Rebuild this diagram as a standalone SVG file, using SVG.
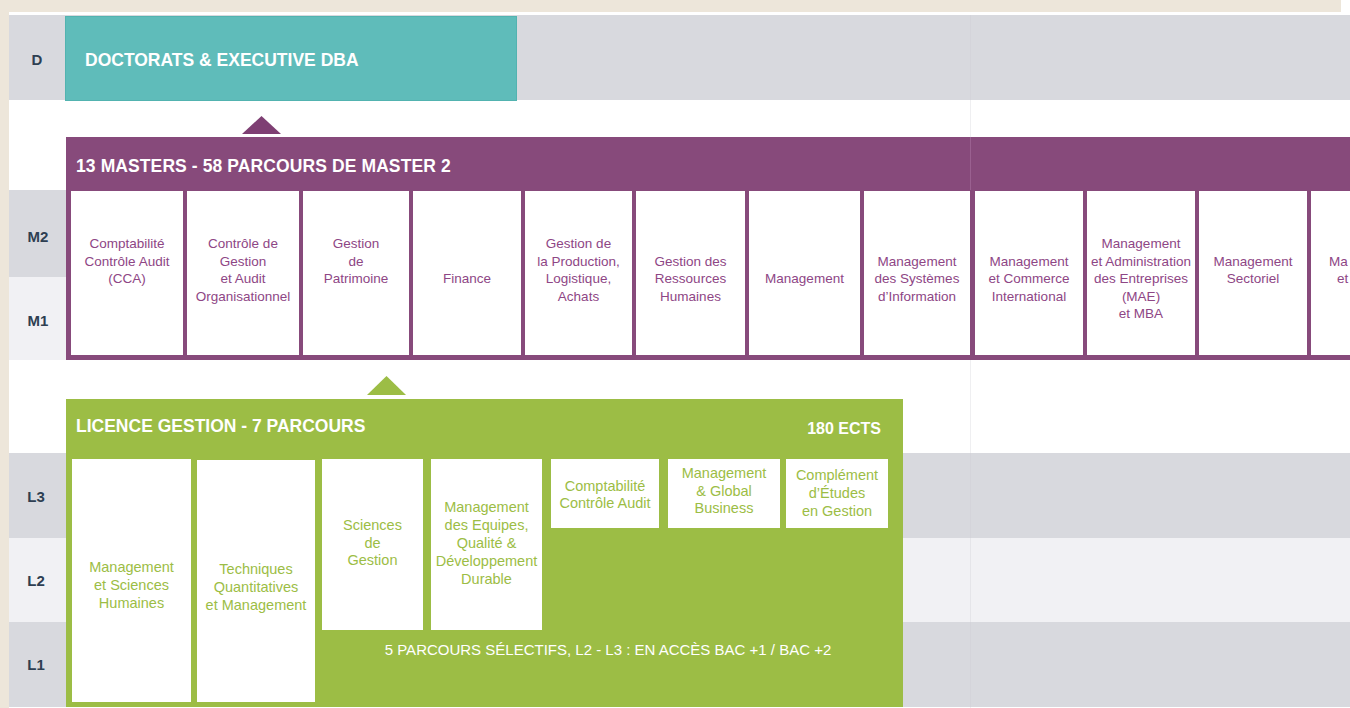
<svg xmlns="http://www.w3.org/2000/svg" width="1350" height="708" viewBox="0 0 1350 708">
<style>
  .row{font-family:"Liberation Sans",Arial,sans-serif;font-weight:bold;font-size:15px;fill:#2e3f52;text-anchor:middle}
  .hdr{font-family:"Liberation Sans",Arial,sans-serif;font-weight:bold;font-size:17.5px;fill:#ffffff}
  .mt{font-family:"Liberation Sans",Arial,sans-serif;font-size:13.5px;fill:#8e4685;text-anchor:middle}
  .lt{font-family:"Liberation Sans",Arial,sans-serif;font-size:14.5px;fill:#9cbd45;text-anchor:middle}
  .mbox{fill:#ffffff}
  .lbox{fill:#ffffff}
  .dark{fill:#d8d9de}
  .light{fill:#f1f1f4}
</style>
<rect x="0" y="0" width="1350" height="708" fill="#ffffff"/>
<rect x="0" y="0" width="1341" height="12" fill="#ede6da"/>
<rect x="0" y="0" width="9" height="708" fill="#ede6da"/>

<g id="bands">
  <rect class="dark" x="9" y="15" width="1341" height="85"/>
  <rect class="dark" x="9" y="190" width="57" height="87"/>
  <rect class="light" x="9" y="277" width="57" height="83"/>
  <rect class="dark" x="9" y="453" width="1341" height="85"/>
  <rect class="light" x="9" y="538" width="1341" height="84"/>
  <rect class="dark" x="9" y="622" width="1341" height="85"/>
  <line x1="970.5" y1="15" x2="970.5" y2="708" stroke="#c9c9cf" stroke-opacity="0.3" stroke-width="1"/>
</g>

<g id="row-labels">
  <text class="row" x="37" y="65">D</text>
  <text class="row" x="38" y="242">M2</text>
  <text class="row" x="38" y="326">M1</text>
  <text class="row" x="36" y="502">L3</text>
  <text class="row" x="36" y="586">L2</text>
  <text class="row" x="36" y="670">L1</text>
</g>

<g id="doctorat">
  <rect x="65.5" y="16.5" width="451" height="84" fill="#5fbcba" stroke="#52b3b0" stroke-width="1"/>
  <text class="hdr" x="85" y="66">DOCTORATS &amp; EXECUTIVE DBA</text>
</g>

<g id="connectors">
  <polygon points="242,134 281,134 261.5,116" fill="#7e3f73"/>
  <polygon points="367,395 406,395 386.5,376" fill="#9cbd45"/>
</g>

<g id="masters">
  <rect x="66" y="137" width="1284" height="223" fill="#874a7b"/>
  <line x1="970.5" y1="137" x2="970.5" y2="190" stroke="#9a6090" stroke-width="1"/>
  <text class="hdr" x="76" y="172" style="letter-spacing:0.1px">13 MASTERS - 58 PARCOURS DE MASTER 2</text>

  <g id="m-cca">
    <rect class="mbox" x="71" y="191" width="112" height="164"/>
    <text class="mt" x="127" y="248">Comptabilité</text>
    <text class="mt" x="127" y="265.5">Contrôle Audit</text>
    <text class="mt" x="127" y="283">(CCA)</text>
  </g>
  <g id="m-cgao">
    <rect class="mbox" x="187" y="191" width="112" height="164"/>
    <text class="mt" x="243" y="248">Contrôle de</text>
    <text class="mt" x="243" y="265.5">Gestion</text>
    <text class="mt" x="243" y="283">et Audit</text>
    <text class="mt" x="243" y="300.5">Organisationnel</text>
  </g>
  <g id="m-patrimoine">
    <rect class="mbox" x="303" y="191" width="106" height="164"/>
    <text class="mt" x="356" y="248">Gestion</text>
    <text class="mt" x="356" y="265.5">de</text>
    <text class="mt" x="356" y="283">Patrimoine</text>
  </g>
  <g id="m-finance">
    <rect class="mbox" x="413" y="191" width="108" height="164"/>
    <text class="mt" x="467" y="283">Finance</text>
  </g>
  <g id="m-production">
    <rect class="mbox" x="525" y="191" width="107" height="164"/>
    <text class="mt" x="578.5" y="248">Gestion de</text>
    <text class="mt" x="578.5" y="265.5">la Production,</text>
    <text class="mt" x="578.5" y="283">Logistique,</text>
    <text class="mt" x="578.5" y="300.5">Achats</text>
  </g>
  <g id="m-grh">
    <rect class="mbox" x="636" y="191" width="109" height="164"/>
    <text class="mt" x="690.5" y="265.5">Gestion des</text>
    <text class="mt" x="690.5" y="283">Ressources</text>
    <text class="mt" x="690.5" y="300.5">Humaines</text>
  </g>
  <g id="m-management">
    <rect class="mbox" x="749" y="191" width="111" height="164"/>
    <text class="mt" x="804.5" y="283">Management</text>
  </g>
  <g id="m-msi">
    <rect class="mbox" x="864" y="191" width="106" height="164"/>
    <text class="mt" x="917" y="265.5">Management</text>
    <text class="mt" x="917" y="283">des Systèmes</text>
    <text class="mt" x="917" y="300.5">d’Information</text>
  </g>
  <g id="m-mci">
    <rect class="mbox" x="975" y="191" width="108" height="164"/>
    <text class="mt" x="1029" y="265.5">Management</text>
    <text class="mt" x="1029" y="283">et Commerce</text>
    <text class="mt" x="1029" y="300.5">International</text>
  </g>
  <g id="m-mae">
    <rect class="mbox" x="1087" y="191" width="108" height="164"/>
    <text class="mt" x="1141" y="248">Management</text>
    <text class="mt" x="1141" y="265.5">et Administration</text>
    <text class="mt" x="1141" y="283">des Entreprises</text>
    <text class="mt" x="1141" y="300.5">(MAE)</text>
    <text class="mt" x="1141" y="318">et MBA</text>
  </g>
  <g id="m-sectoriel">
    <rect class="mbox" x="1199" y="191" width="108" height="164"/>
    <text class="mt" x="1253" y="265.5">Management</text>
    <text class="mt" x="1253" y="283">Sectoriel</text>
  </g>
  <g id="m-cut">
    <rect class="mbox" x="1311" y="191" width="39" height="164"/>
    <text class="mt" x="1329" y="265.5" style="text-anchor:start">Ma</text>
    <text class="mt" x="1337" y="283" style="text-anchor:start">et</text>
  </g>
</g>

<g id="licence">
  <rect x="66" y="399" width="837" height="308" fill="#9cbd45"/>
  <text class="hdr" x="76" y="432">LICENCE GESTION - 7 PARCOURS</text>
  <text class="hdr" x="881" y="434" style="font-size:16px;text-anchor:end">180 ECTS</text>
  <text x="608" y="655" style="font-family:'Liberation Sans',Arial,sans-serif;font-size:15px;fill:#ffffff;text-anchor:middle">5 PARCOURS SÉLECTIFS, L2 - L3 : EN ACCÈS BAC +1 / BAC +2</text>

  <g id="l-msh">
    <rect class="lbox" x="72" y="459" width="119" height="243"/>
    <text class="lt" x="131.5" y="572">Management</text>
    <text class="lt" x="131.5" y="590">et Sciences</text>
    <text class="lt" x="131.5" y="608">Humaines</text>
  </g>
  <g id="l-tqm">
    <rect class="lbox" x="197" y="460" width="118" height="242"/>
    <text class="lt" x="256" y="574">Techniques</text>
    <text class="lt" x="256" y="592">Quantitatives</text>
    <text class="lt" x="256" y="610">et Management</text>
  </g>
  <g id="l-sg">
    <rect class="lbox" x="322" y="459" width="101" height="171"/>
    <text class="lt" x="372.5" y="530">Sciences</text>
    <text class="lt" x="372.5" y="548">de</text>
    <text class="lt" x="372.5" y="565">Gestion</text>
  </g>
  <g id="l-meq">
    <rect class="lbox" x="431" y="459" width="111" height="171"/>
    <text class="lt" x="486.5" y="512">Management</text>
    <text class="lt" x="486.5" y="530">des Equipes,</text>
    <text class="lt" x="486.5" y="548">Qualité &amp;</text>
    <text class="lt" x="486.5" y="566">Développement</text>
    <text class="lt" x="486.5" y="584">Durable</text>
  </g>
  <g id="l-cca">
    <rect class="lbox" x="551" y="459" width="108" height="69"/>
    <text class="lt" x="605" y="491">Comptabilité</text>
    <text class="lt" x="605" y="508">Contrôle Audit</text>
  </g>
  <g id="l-mgb">
    <rect class="lbox" x="668" y="459" width="112" height="69"/>
    <text class="lt" x="724" y="478">Management</text>
    <text class="lt" x="724" y="496">&amp; Global</text>
    <text class="lt" x="724" y="513">Business</text>
  </g>
  <g id="l-ceg">
    <rect class="lbox" x="786" y="459" width="102" height="69"/>
    <text class="lt" x="837" y="480">Complément</text>
    <text class="lt" x="837" y="498">d’Études</text>
    <text class="lt" x="837" y="516">en Gestion</text>
  </g>
</g>
</svg>
